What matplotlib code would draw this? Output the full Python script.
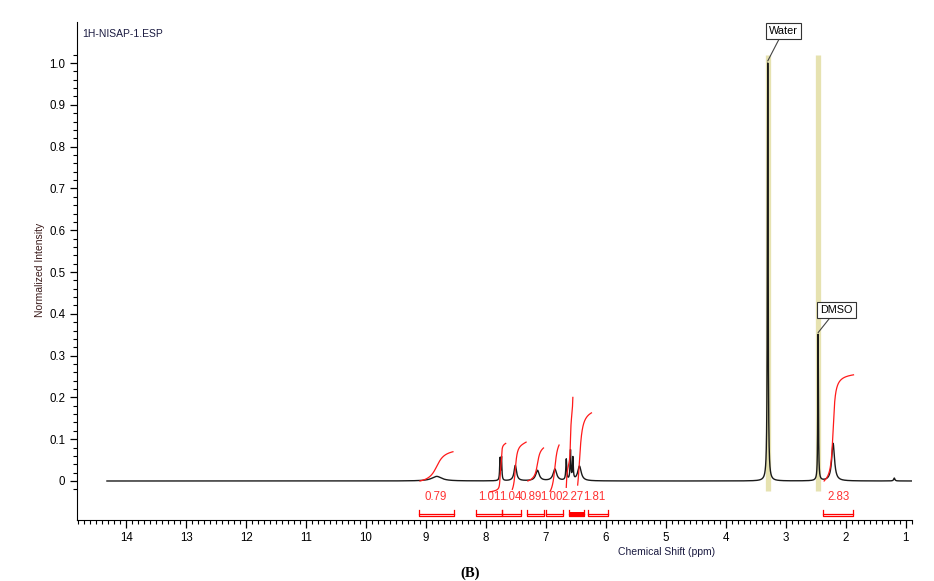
import numpy as np
import matplotlib
matplotlib.use("Agg")
import matplotlib.pyplot as plt
from matplotlib.ticker import FixedLocator, MultipleLocator

plt.rcParams['font.family'] = ['Liberation Sans', 'DejaVu Sans']

# peaks of the 1H spectrum: shift (ppm), height, half width (ppm)
peak_ppm = [8.82, 7.765, 7.74, 7.51, 7.14, 6.85, 6.66, 6.59, 6.55, 6.44, 3.30, 2.46, 2.21, 1.19]
peak_height = [0.011, 0.052, 0.055, 0.037, 0.025, 0.028, 0.050, 0.070, 0.052, 0.035, 1.00, 0.35, 0.090, 0.007]
peak_width = [0.10, 0.007, 0.007, 0.025, 0.035, 0.035, 0.009, 0.008, 0.008, 0.035, 0.007, 0.006, 0.028, 0.012]

# integral traces: region, start level, end level
int_start = [9.10, 7.93, 7.56, 7.30, 6.93, 6.66, 6.47, 2.36]
int_end = [8.55, 7.67, 7.33, 7.04, 6.78, 6.55, 6.24, 1.87]
int_base = [0.0, -0.026, -0.020, 0.0, -0.025, -0.016, -0.010, 0.0]
int_top = [0.070, 0.090, 0.093, 0.079, 0.086, 0.200, 0.163, 0.254]

# integral labels and brackets
int_values = ["0.79", "1.01", "1.04", "0.89", "1.00", "2.27", "1.81", "2.83"]
label_ppm = [8.84, 7.94, 7.59, 7.25, 6.91, 6.56, 6.19, 2.12]
bracket_from = [9.12, 8.16, 7.73, 7.31, 6.99, 6.62, 6.29, 2.38]
bracket_to = [8.54, 7.73, 7.41, 7.03, 6.72, 6.37, 5.97, 1.87]
bracket_filled = [False, False, False, False, False, True, False, False]

# solvent labels
solvents = ["Water", "DMSO"]
solvent_ppm = [3.30, 2.46]
solvent_peak = [1.005, 0.355]
solvent_box = [(3.04, 1.077), (2.16, 0.409)]

x = np.linspace(14.32, 0.90, 60000)
y = np.zeros_like(x)
for p, h, w in zip(peak_ppm, peak_height, peak_width):
    y += h / (1 + ((x - p) / w) ** 2)

fig = plt.figure(figsize=(9.34, 5.81), dpi=100)
ax = fig.add_axes([0.0824, 0.105, 0.894, 0.857])

# solvent highlight bars
ax.vlines(solvent_ppm, -0.025, 1.02, color='#e6e2b0', lw=3.8, zorder=1)

ax.plot(x, y, color='#1a1a1a', lw=1.0, zorder=3)

# integral curves from the spectrum itself
for s, e, b, t in zip(int_start, int_end, int_base, int_top):
    m = (x <= s) & (x >= e)
    c = np.cumsum(y[m])
    c = c / c[-1]
    ax.plot(x[m], b + (t - b) * c, color='#ff1a1a', lw=0.9, zorder=4)

# integral values and brackets
for v, lp, b0, b1, f in zip(int_values, label_ppm, bracket_from, bracket_to, bracket_filled):
    ax.text(lp, -0.038, v, color='#ff3333', fontsize=8.3, ha='center', va='center')
    if f:
        ax.fill_between([b0, b1], -0.084, -0.074, color='red', lw=0)
    ax.plot([b0, b0, b1, b1], [-0.069, -0.084, -0.084, -0.069], color='red', lw=0.9)
    ax.plot([b0, b1], [-0.078, -0.078], color='red', lw=0.9)

for name, sp, pk, (bx, by) in zip(solvents, solvent_ppm, solvent_peak, solvent_box):
    ax.annotate(name, xy=(sp, pk), xytext=(bx, by), fontsize=7.8, ha='center', va='center',
                bbox=dict(boxstyle='square,pad=0.3', fc='white', ec='#333333', lw=0.8),
                arrowprops=dict(arrowstyle='-', color='#444444', lw=0.8,
                                shrinkA=0, shrinkB=0), zorder=5)

ax.set_xlim(14.82, 0.895)
ax.set_ylim(-0.0933, 1.098)

ax.spines['top'].set_visible(False)
ax.spines['right'].set_visible(False)

ax.xaxis.set_major_locator(MultipleLocator(1))
ax.xaxis.set_minor_locator(MultipleLocator(0.1))
ax.yaxis.set_major_locator(FixedLocator(np.round(np.arange(0, 1.01, 0.1), 2)))
ax.yaxis.set_minor_locator(FixedLocator(np.round(np.arange(-0.02, 1.03, 0.02), 2)))
ax.set_yticklabels(['0'] + [f'{v:.1f}' for v in np.arange(0.1, 1.01, 0.1)])
ax.xaxis.set_major_formatter(plt.FuncFormatter(lambda v, p: f'{v:.0f}'))

ax.tick_params(axis='both', which='major', direction='out', length=5, width=0.9, labelsize=8.3,
               colors='black')
ax.tick_params(axis='both', which='minor', direction='out', length=3, width=0.8)
ax.tick_params(axis='x', which='major', length=6, pad=3)

ax.text(0.006, 0.977, "1H-NISAP-1.ESP", transform=ax.transAxes, fontsize=7.5,
        color='#1a1a40', va='center')
fig.text(40 / 934, 0.535, "Normalized Intensity", rotation=90, fontsize=7.5,
         color='#3a1a1a', ha='center', va='center')
fig.text(667 / 934, 1 - 552 / 581, "Chemical Shift (ppm)", fontsize=7.5,
         color='#1a1a40', ha='center', va='center')
fig.text(470 / 934, 1 - 573 / 581, "(B)", fontsize=10.5, fontweight='bold',
         family='Liberation Serif', ha='center', va='center')

fig.savefig("out.png", dpi=100)
